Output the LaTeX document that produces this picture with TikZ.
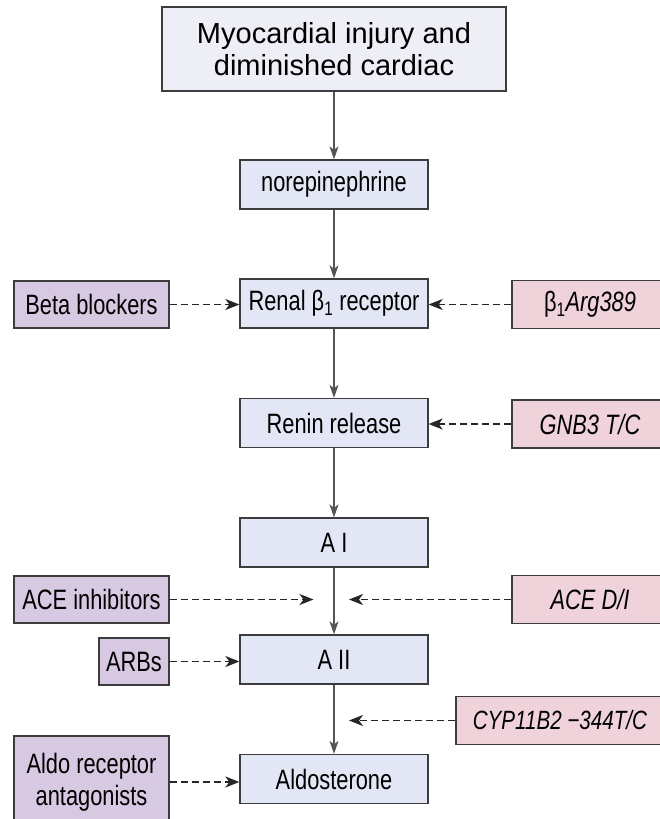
\documentclass[tikz,border=0pt]{standalone}
\usepackage{fontspec}
\setmainfont{Liberation Sans}
\newfontfamily\narrowfont[FakeStretch=0.78]{Liberation Sans}
\usetikzlibrary{arrows.meta}
\usepackage{xcolor}
\definecolor{topfill}{HTML}{EDEEF6}
\definecolor{stepfill}{HTML}{E3E6F4}
\definecolor{drugfill}{HTML}{D8C9E2}
\definecolor{genefill}{HTML}{F0D3DA}
\definecolor{boxline}{HTML}{3C3C3C}
\definecolor{flowline}{HTML}{555555}

\begin{document}
\begin{tikzpicture}[x=1pt,y=-1pt,
  stepbox/.style={draw=boxline,line width=1.3pt,fill=stepfill,minimum width=188pt,minimum height=49pt,inner sep=0pt,font=\narrowfont\fontsize{28}{32}\selectfont},
  drugbox/.style={stepbox,fill=drugfill,minimum width=155pt,minimum height=47pt},
  genebox/.style={stepbox,fill=genefill,minimum width=156pt,minimum height=48pt},
  flow/.style={draw=flowline,line width=1.3pt,-{Stealth[length=13pt,width=9pt,inset=3.5pt]}},
  dasharrow/.style={draw=black!85,line width=1.5pt,dash pattern=on 7pt off 4pt,-{Stealth[length=14pt,width=11pt,inset=4pt]}}]

\useasboundingbox (0,0) rectangle (660,819);

\node[stepbox,fill=topfill,minimum width=344pt,minimum height=84pt,align=center,font=\fontsize{29}{32}\selectfont] (injury) at (334,49) {Myocardial injury and\\diminished cardiac};
\node[stepbox] (nore) at (334,184.5) {norepinephrine};
\node[stepbox] (renal) at (334,303.5) {Renal β\textsubscript{1} receptor};
\node[stepbox] (renin) at (334,423) {Renin release};
\node[stepbox] (ai) at (334,542.5) {A I};
\node[stepbox] (aii) at (334,659.5) {A II};
\node[stepbox] (aldo) at (334,779) {Aldosterone};

\node[drugbox] (beta) at (91.5,304.5) {Beta blockers};
\node[drugbox] (acei) at (91.5,599.5) {ACE inhibitors};
\node[drugbox,minimum width=70pt] (arb) at (134,661.5) {ARBs};
\node[drugbox,minimum height=92pt,align=center] (ara) at (91.5,782) {Aldo receptor\\antagonists};

\node[genebox] (arg) at (590,304.5) {β\textsubscript{1}\textit{Arg389}};
\node[genebox] (gnb) at (590,424) {\textit{GNB3 T/C}};
\node[genebox] (aced) at (590,599.5) {\textit{ACE D/I}};
\node[genebox,minimum width=208pt,font=\narrowfont\fontsize{26.4}{32}\selectfont] (cyp) at (560,720.5) {\textit{CYP11B2 −344T/C}};

\coordinate (acein) at (313.5,599.5);
\coordinate (aceout) at (349,599.5);
\coordinate (cypin) at (349,720.5);

\foreach \a/\b in {injury/nore, nore/renal, renal/renin, renin/ai, ai/aii, aii/aldo}
  \draw[flow] (\a) -- (\b);

\draw[dasharrow] (beta) -- (beta -| renal.west);
\draw[dasharrow] (arg) -- (arg -| renal.east);
\draw[dasharrow] (gnb) -- (gnb -| renin.east);
\draw[dasharrow] (acei) -- (acein);
\draw[dasharrow] (aced) -- (aceout);
\draw[dasharrow] (arb) -- (arb -| aii.west);
\draw[dasharrow] (cyp) -- (cypin);
\draw[dasharrow] (ara) -- (ara -| aldo.west);

\end{tikzpicture}
\end{document}
